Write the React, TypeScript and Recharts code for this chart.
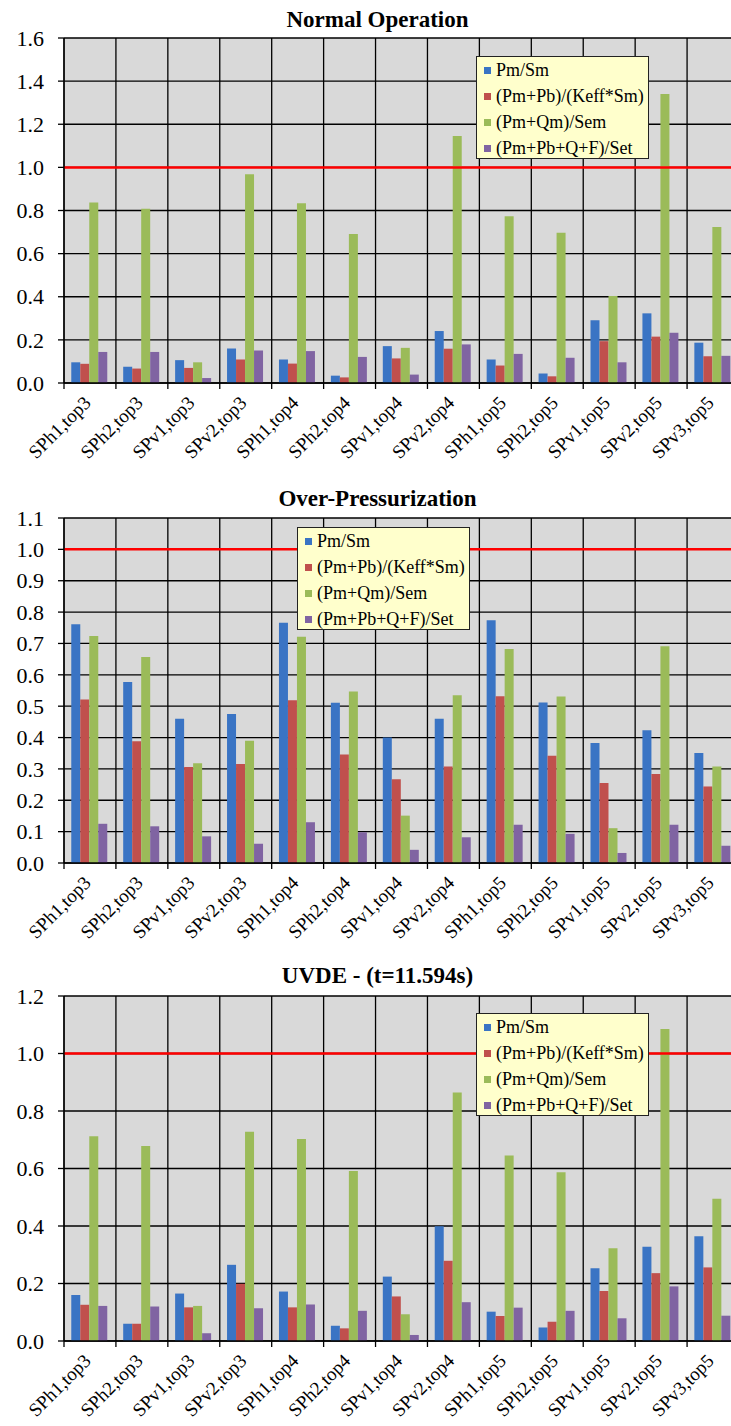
import React from "react";
import { BarChart, Bar, XAxis, YAxis, CartesianGrid, ReferenceLine } from "recharts";

const categories = [
  "SPh1,top3", "SPh2,top3", "SPv1,top3", "SPv2,top3", "SPh1,top4", "SPh2,top4", "SPv1,top4",
  "SPv2,top4", "SPh1,top5", "SPh2,top5", "SPv1,top5", "SPv2,top5", "SPv3,top5",
];

const seriesNames = ["Pm/Sm", "(Pm+Pb)/(Keff*Sm)", "(Pm+Qm)/Sem", "(Pm+Pb+Q+F)/Set"];
const seriesColors = ["#3A74C4", "#C0504D", "#9BBB59", "#8064A2"];

// Normal Operation
const normalPmSm = [0.096, 0.075, 0.106, 0.16, 0.109, 0.034, 0.171, 0.241, 0.109, 0.044, 0.291, 0.323, 0.187];
const normalPmPb = [0.089, 0.067, 0.07, 0.109, 0.09, 0.026, 0.114, 0.159, 0.081, 0.031, 0.194, 0.215, 0.124];
const normalPmQm = [0.837, 0.808, 0.096, 0.968, 0.834, 0.691, 0.163, 1.146, 0.773, 0.697, 0.404, 1.34, 0.723];
const normalTotal = [0.144, 0.144, 0.023, 0.151, 0.148, 0.121, 0.039, 0.179, 0.135, 0.117, 0.096, 0.233, 0.126];

// Over-Pressurization
const overPmSm = [0.761, 0.577, 0.46, 0.475, 0.766, 0.511, 0.4, 0.46, 0.774, 0.512, 0.383, 0.423, 0.351];
const overPmPb = [0.521, 0.388, 0.306, 0.316, 0.519, 0.346, 0.267, 0.308, 0.532, 0.342, 0.255, 0.284, 0.244];
const overPmQm = [0.724, 0.657, 0.318, 0.39, 0.721, 0.547, 0.151, 0.535, 0.682, 0.531, 0.111, 0.691, 0.308];
const overTotal = [0.125, 0.117, 0.085, 0.061, 0.13, 0.098, 0.042, 0.082, 0.122, 0.093, 0.032, 0.122, 0.055];

// UVDE - (t=11.594s)
const uvdePmSm = [0.16, 0.06, 0.165, 0.265, 0.172, 0.053, 0.224, 0.399, 0.102, 0.047, 0.253, 0.328, 0.364];
const uvdePmPb = [0.126, 0.06, 0.117, 0.199, 0.117, 0.044, 0.155, 0.279, 0.087, 0.067, 0.174, 0.236, 0.256];
const uvdePmQm = [0.712, 0.678, 0.122, 0.728, 0.703, 0.591, 0.093, 0.864, 0.645, 0.587, 0.323, 1.085, 0.495];
const uvdeTotal = [0.122, 0.12, 0.027, 0.114, 0.127, 0.105, 0.021, 0.135, 0.116, 0.105, 0.079, 0.19, 0.088];

const normalTicks = [0, 0.2, 0.4, 0.6, 0.8, 1.0, 1.2, 1.4, 1.6];
const overTicks = [0, 0.1, 0.2, 0.3, 0.4, 0.5, 0.6, 0.7, 0.8, 0.9, 1.0, 1.1];
const uvdeTicks = [0, 0.2, 0.4, 0.6, 0.8, 1.0, 1.2];

const keys = ["s0", "s1", "s2", "s3"];

function buildData(a: number[], b: number[], c: number[], d: number[]) {
  return categories.map((name, i) => ({ name, s0: a[i], s1: b[i], s2: c[i], s3: d[i] }));
}

const SERIF = '"Liberation Serif", "Times New Roman", Times, serif';
const CHART_W = 740;
const MARGIN_TOP = 38;
const PLOT_H = 345;
const YAXIS_W = 64;
const MARGIN_RIGHT = 1;
const XAXIS_H = 92;
const BAND = (CHART_W - YAXIS_W - MARGIN_RIGHT) / categories.length;

const XTick = (props: any) => {
  const { x, y, payload, index } = props;
  const half = payload && typeof payload.offset === "number" && payload.offset > 0 ? payload.offset : BAND / 2;
  const tx = x + 2;
  const ty = y + 21;
  return (
    <g>
      <line x1={x - half} x2={x - half} y1={y} y2={y + 6} stroke="#000" strokeWidth={1.3} />
      {index === categories.length - 1 ? (
        <line x1={x + half} x2={x + half} y1={y} y2={y + 6} stroke="#000" strokeWidth={1.3} />
      ) : null}
      <text x={tx} y={ty} textAnchor="end" style={{ fontFamily: SERIF }} fontSize={19} fill="#000"
        transform={`rotate(-45, ${tx}, ${ty})`}>
        {payload.value}
      </text>
    </g>
  );
};

const YTick = (props: any) => {
  const { x, y, payload } = props;
  return (
    <text x={x} y={y} dy="0.35em" textAnchor="end" style={{ fontFamily: SERIF }} fontSize={22} fill="#000">
      {Number(payload.value).toFixed(1)}
    </text>
  );
};

type PanelProps = {
  top: number; title: string; titleY: number; data: any[]; ticks: number[];
  legendLeft: number; legendTop: number;
};

const Legend = ({ left, top }: { left: number; top: number }) => (
  <div style={{ position: "absolute", left, top, width: 171, height: 101, background: "#FFFFCC",
    border: "1.5px solid #222", fontFamily: SERIF, fontSize: 18, lineHeight: "26px", color: "#000", zIndex: 5 }}>
    {seriesNames.map((n, i) => (
      <div key={n} style={{ display: "flex", alignItems: "center", whiteSpace: "nowrap", height: 26 }}>
        <span style={{ display: "inline-block", width: 7, height: 7, background: seriesColors[i], marginLeft: 7, marginRight: 5 }} />
        <span>{n}</span>
      </div>
    ))}
  </div>
);

const Panel = ({ top, title, titleY, data, ticks, legendLeft, legendTop }: PanelProps) => {
  const maxT = ticks[ticks.length - 1];
  return (
    <>
      <div style={{ position: "absolute", left: 0, top, width: CHART_W, height: MARGIN_TOP + PLOT_H + XAXIS_H }}>
        <BarChart width={CHART_W} height={MARGIN_TOP + PLOT_H + XAXIS_H} data={data}
          margin={{ top: MARGIN_TOP, right: MARGIN_RIGHT, bottom: 0, left: 0 }} barGap={0} barCategoryGap="14%">
          <CartesianGrid stroke="#000" strokeWidth={1.3} fill="#D9D9D9" fillOpacity={1}
            verticalCoordinatesGenerator={(p: any) => {
              const off = p && p.offset ? p.offset : { left: YAXIS_W, width: CHART_W - YAXIS_W - MARGIN_RIGHT };
              const bw = off.width / categories.length;
              return categories.map((_, i) => off.left + i * bw).concat([off.left + off.width]);
            }} />
          <XAxis dataKey="name" interval={0} height={XAXIS_H} tickLine={false} tickSize={0} tickMargin={0}
            axisLine={{ stroke: "#000", strokeWidth: 1.3 }} tick={<XTick />} />
          <YAxis domain={[0, maxT]} ticks={ticks} width={YAXIS_W} interval={0} allowDataOverflow tickSize={6}
            tickMargin={14} axisLine={{ stroke: "#000", strokeWidth: 1.3 }} tickLine={{ stroke: "#000", strokeWidth: 1.3 }}
            tick={<YTick />} />
          {keys.map((k, i) => (
            <Bar key={k} dataKey={k} name={seriesNames[i]} fill={seriesColors[i]} isAnimationActive={false} />
          ))}
          <ReferenceLine y={1} stroke="#FF0000" strokeWidth={2.5} ifOverflow="visible" />
        </BarChart>
      </div>
      <svg style={{ position: "absolute", left: 0, top, overflow: "visible" }} width={CHART_W} height={40}>
        <text x={377.5} y={titleY} textAnchor="middle" style={{ fontFamily: SERIF }} fontWeight="bold" fontSize={23} fill="#000">
          {title}
        </text>
      </svg>
      <Legend left={legendLeft} top={legendTop} />
    </>
  );
};

export default function App() {
  return (
    <div style={{ position: "absolute", left: 0, top: 0, width: 731, height: 1426, overflow: "hidden", background: "#fff", fontFamily: SERIF }}>
      <Panel top={0} title="Normal Operation" titleY={27}
        data={buildData(normalPmSm, normalPmPb, normalPmQm, normalTotal)} ticks={normalTicks}
        legendLeft={476} legendTop={56} />
      <Panel top={480} title="Over-Pressurization" titleY={26}
        data={buildData(overPmSm, overPmPb, overPmQm, overTotal)} ticks={overTicks}
        legendLeft={297} legendTop={527} />
      <Panel top={958} title="UVDE - (t=11.594s)" titleY={25}
        data={buildData(uvdePmSm, uvdePmPb, uvdePmQm, uvdeTotal)} ticks={uvdeTicks}
        legendLeft={476} legendTop={1013} />
    </div>
  );
}
